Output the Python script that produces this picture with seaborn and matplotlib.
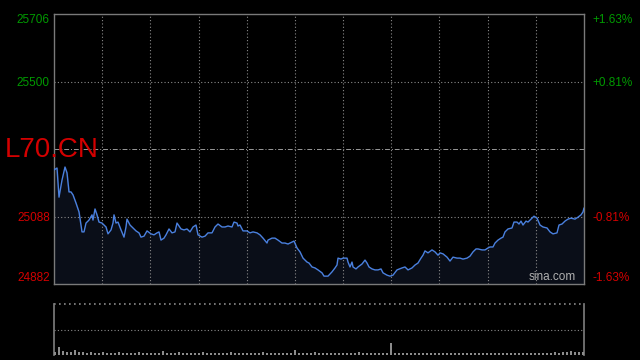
import numpy as np
import pandas as pd
import seaborn as sns
import matplotlib
matplotlib.use("Agg")
import matplotlib.pyplot as plt

# ---- data (time index and price) ----
minute_a = [0, 3, 5, 8, 11, 13, 15, 17, 19, 22, 25, 28, 30, 32, 35, 38, 39, 41, 43, 45,
            48, 52, 54, 57, 59, 60, 62, 64, 67, 70, 72, 73, 76, 78, 82, 85, 87, 90, 93, 97,
            100, 103, 105, 107, 110, 112, 115, 118, 121, 123, 127, 130, 133]
price_a = [25230, 25236, 25147, 25199, 25239, 25221, 25163, 25163, 25154, 25129,
           25102, 25041, 25041, 25068, 25077, 25093, 25077, 25111, 25093, 25071,
           25068, 25056, 25035, 25047, 25068, 25093, 25068, 25071, 25047, 25025,
           25056, 25080, 25062, 25056, 25044, 25038, 25025, 25028, 25044, 25035,
           25032, 25038, 25041, 25016, 25022, 25032, 25050, 25038, 25041, 25068,
           25050, 25047, 25050]
minute_b = [136, 139, 142, 144, 148, 151, 154, 158, 161, 164,
            168, 171, 174, 178, 180, 183, 184, 186, 189, 193,
            196, 199, 203, 206, 209, 213, 214, 218, 221, 224,
            228, 231, 234, 238, 240, 243, 246, 249, 253, 255,
            258, 261]
price_b = [25041, 25056, 25062, 25032, 25025, 25028, 25038, 25038, 25056, 25065,
           25056, 25056, 25059, 25056, 25071, 25068, 25059, 25062, 25044, 25044,
           25038, 25041, 25038, 25032, 25022, 25007, 25016, 25022, 25022, 25016,
           25007, 25007, 25004, 25010, 25013, 24992, 24980, 24961, 24949, 24946,
           24934, 24931]
minute_c = [264, 268, 270, 274, 278, 281, 283, 284, 287, 289,
            293, 294, 296, 298, 299, 302, 304, 308, 311, 313,
            315, 318, 321, 324, 327, 329, 333, 336, 339, 343,
            348, 351, 354, 358, 361, 364, 367, 369, 371, 374,
            378, 381, 384, 386, 389, 393, 396]
price_c = [24925, 24916, 24906, 24906, 24919, 24931, 24940, 24961, 24958, 24961,
           24961, 24949, 24934, 24949, 24934, 24928, 24934, 24943, 24955, 24946,
           24934, 24928, 24925, 24925, 24928, 24916, 24909, 24906, 24909, 24925,
           24931, 24934, 24925, 24931, 24940, 24946, 24961, 24970, 24983, 24977,
           24986, 24980, 24970, 24977, 24974, 24964, 24952]
minute_d = [399, 403, 406, 409, 413, 416, 419, 422, 424, 428,
            431, 434, 436, 439, 441, 444, 447, 449, 451, 454,
            458, 460, 463, 465, 467, 469, 472, 474, 477, 480,
            483, 486, 489, 493, 496, 499, 503, 505, 508, 511,
            514, 517, 521, 524, 527, 529, 530]
price_d = [24964, 24961, 24961, 24958, 24961, 24967, 24980, 24989, 24989, 24986,
           24986, 24992, 24995, 24995, 25007, 25016, 25022, 25025, 25041, 25050,
           25053, 25071, 25071, 25065, 25074, 25062, 25074, 25071, 25080, 25089,
           25083, 25062, 25056, 25053, 25041, 25035, 25038, 25062, 25065, 25074,
           25080, 25083, 25080, 25086, 25093, 25102, 25114]

volume = [3, 8, 4, 3, 3, 5, 3, 3, 2, 3, 2, 2, 3, 2, 2, 2, 3, 2, 2, 2,
          2, 3, 2, 2, 2, 2, 2, 4, 2, 2, 2, 3, 2, 2, 2, 2, 2, 3, 2, 2,
          2, 2, 2, 2, 3, 2, 2, 2, 2, 2, 2, 2, 3, 2, 2, 2, 2, 2, 2, 2,
          5, 2, 2, 2, 2, 3, 2, 2, 2, 2, 2, 2, 2, 2, 2, 2, 3, 2, 2, 2,
          2, 2, 2, 2, 12, 2, 2, 2, 2, 2, 2, 2, 2, 2, 2, 2, 2, 2, 2, 2,
          2, 2, 2, 2, 2, 2, 2, 2, 2, 2, 2, 2, 2, 2, 2, 2, 2, 2, 2, 2,
          2, 2, 2, 2, 2, 3, 2, 3, 3, 4, 3, 3, 3]

prev_close = 25294
y_ticks = [24882, 25088, 25294, 25500, 25706]
left_labels = ["24882", "25088", "", "25500", "25706"]
right_labels = ["-1.63%", "-0.81%", "", "+0.81%", "+1.63%"]
symbol = "L70.CN"
watermark = "sina.com"

minute = minute_a + minute_b + minute_c + minute_d
price = price_a + price_b + price_c + price_d

# ---- style ----
sns.set_theme(style="dark")
plt.rcParams["font.family"] = ["Liberation Sans", "DejaVu Sans"]

BG = "#000000"
GRID = "#8a8a8a"
SPINE = "#7a7a7a"
GREEN = "#009a00"
RED = "#d40000"
LINE = "#4a80de"

fig = plt.figure(figsize=(6.4, 3.6), dpi=100, facecolor=BG)
ax = fig.add_axes([54 / 640, 1 - 284 / 360, 530 / 640, 270 / 360])
axv = fig.add_axes([54 / 640, 1 - 355 / 360, 530 / 640, 51 / 360])

for a in (ax, axv):
    a.set_facecolor(BG)
    a.grid(False)

df = pd.DataFrame({"minute": minute, "price": price})
ax.fill_between(df["minute"], df["price"], y_ticks[0], color="#0a0e18", zorder=1)
sns.lineplot(data=df, x="minute", y="price", ax=ax, color=LINE, linewidth=1.0, zorder=3)

ax.set_xlim(0, 530)
ax.set_ylim(y_ticks[0], y_ticks[-1])
ax.set_xlabel("")
ax.set_ylabel("")

# grid lines
for gx in np.linspace(0, 530, 12)[1:-1]:
    ax.axvline(gx, color=GRID, linestyle=(0, (1, 2)), linewidth=0.8, zorder=2)
for gy in (25088, 25500):
    ax.axhline(gy, color=GRID, linestyle=(0, (1, 2)), linewidth=0.8, zorder=2)
ax.axhline(prev_close, color="#9a9a9a", linestyle=(0, (5, 2, 1, 2)), linewidth=0.7, zorder=2)

for s in ax.spines.values():
    s.set_color(SPINE)
    s.set_linewidth(1.0)

ax.set_xticks([])
ax.set_yticks(y_ticks)
ax.set_yticklabels(left_labels)
ax.tick_params(axis="y", length=0, pad=3, labelsize=8.5)

axr = ax.twinx()
axr.set_ylim(ax.get_ylim())
axr.set_yticks(y_ticks)
axr.set_yticklabels(right_labels)
axr.tick_params(axis="y", length=0, pad=6, labelsize=8.5)
for s in axr.spines.values():
    s.set_visible(False)
axr.grid(False)

for a in (ax, axr):
    for lbl, v in zip(a.get_yticklabels(), y_ticks):
        lbl.set_color(GREEN if v > prev_close else RED)
        if v == y_ticks[-1]:
            lbl.set_va("top")
        elif v == y_ticks[0]:
            lbl.set_va("bottom")
        else:
            lbl.set_va("center_baseline")

fig.text(5 / 640, 1 - 150 / 360, symbol, color=RED, fontsize=20,
         ha="left", va="center")
ax.text(0.985, 0.005, watermark, transform=ax.transAxes, color="#b0b0b0",
        fontsize=8.5, ha="right", va="bottom", zorder=4)

# volume panel
vol_x = np.arange(len(volume)) * 4 + 1
axv.bar(vol_x, volume, width=1.3, color="#8c8c8c", linewidth=0, zorder=3)
axv.set_xlim(0, 530)
axv.set_ylim(0, 51)
axv.set_xticks([])
axv.set_yticks([])
axv.axhline(25.5, color=GRID, linestyle=(0, (1, 2)), linewidth=0.8)
axv.axhline(51, color=GRID, linestyle=(0, (1, 2)), linewidth=1.2, clip_on=False)
axv.spines["top"].set_visible(False)
axv.spines["bottom"].set_visible(False)
axv.spines["left"].set_color(SPINE)
axv.spines["right"].set_color(SPINE)

fig.savefig("out.png", dpi=100, facecolor=BG)
